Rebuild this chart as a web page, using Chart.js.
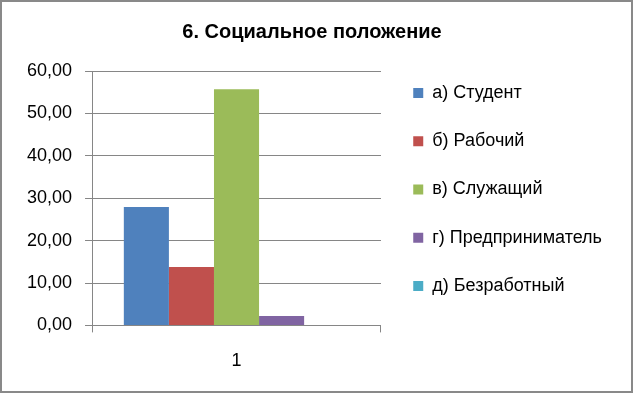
<!DOCTYPE html>
<html>
<head>
<meta charset="utf-8">
<script src="https://cdn.jsdelivr.net/npm/chart.js@4/dist/chart.umd.min.js"></script>
<style>
html,body{margin:0;padding:0;background:#fff;}
#wrap{width:633px;height:393px;position:relative;}
</style>
</head>
<body>
<div id="wrap"><canvas id="c" width="633" height="393"></canvas></div>
<script>
const categories = ["1"];
const seriesNames = ["а) Студент", "б) Рабочий", "в) Служащий", "г) Предприниматель", "д) Безработный"];
const seriesValues = [27.9, 13.8, 55.7, 2.2, 0];
const seriesColors = ["#4F81BD", "#C0504D", "#9BBB59", "#8064A2", "#4BACC6"];
const titleText = "6. Социальное положение";

const FONT = "'Liberation Sans', Arial, sans-serif";

const borderPlugin = {
  id: 'outerBorder',
  afterDraw(chart) {
    const ctx = chart.ctx;
    ctx.save();
    ctx.strokeStyle = '#898989';
    ctx.lineWidth = 2;
    ctx.strokeRect(1, 1, chart.width - 2, chart.height - 2);
    ctx.restore();
  }
};

// small nudge of the legend block to match the reference placement
const legendNudge = {
  id: 'legendNudge',
  afterLayout(chart) {
    const lg = chart.legend;
    if (!lg) return;
    lg.top -= 5.5; lg.bottom -= 5.5;
    lg.left += 2; lg.right += 2;
  }
};

new Chart(document.getElementById('c'), {
  type: 'bar',
  data: {
    labels: categories,
    datasets: seriesNames.map((n, i) => ({
      label: n,
      data: [seriesValues[i]],
      backgroundColor: seriesColors[i],
      borderWidth: 0,
      barPercentage: 1.0,
      categoryPercentage: 0.78
    }))
  },
  options: {
    responsive: false,
    animation: false,
    devicePixelRatio: 1,
    layout: { padding: { left: 14, right: 23, top: 0, bottom: 3 } },
    plugins: {
      title: {
        display: true,
        text: titleText,
        color: '#000',
        font: { family: FONT, size: 20, weight: 'bold', lineHeight: 1.2 },
        padding: { top: 20, bottom: 27 }
      },
      legend: {
        display: true,
        position: 'right',
        align: 'center',
        maxWidth: 300,
        labels: {
          boxWidth: 10,
          boxHeight: 10,
          padding: 30.25,
          color: '#000',
          font: { family: FONT, size: 18 }
        }
      },
      tooltip: { enabled: false }
    },
    scales: {
      x: {
        grid: { display: true, drawOnChartArea: false, color: '#868686', tickLength: 7, offset: true },
        border: { color: '#868686' },
        ticks: { color: '#000', font: { family: FONT, size: 18, lineHeight: 1.2 }, padding: 18 }
      },
      y: {
        min: 0, max: 60,
        grid: { color: '#868686', tickLength: 7 },
        border: { color: '#868686' },
        ticks: {
          stepSize: 10,
          color: '#000',
          padding: 13,
          font: { family: FONT, size: 18 },
          callback: v => v.toFixed(2).replace('.', ',')
        }
      }
    }
  },
  plugins: [borderPlugin, legendNudge]
});
</script>
</body>
</html>
